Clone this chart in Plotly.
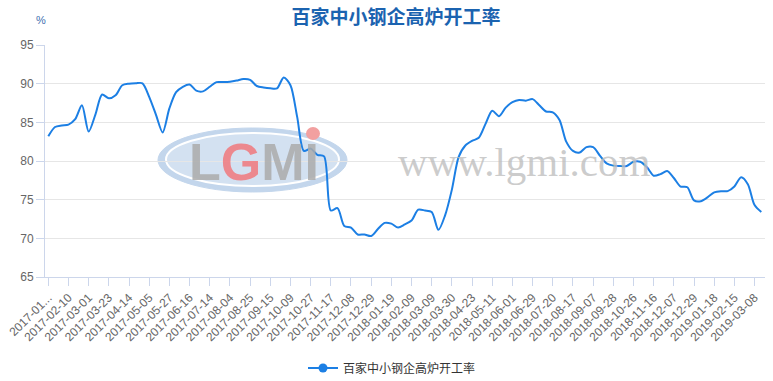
import datetime as dt
import plotly.graph_objects as go

# ---- data ----
tick_labels = [
    "2017-01-20", "2017-02-10", "2017-03-01", "2017-03-23", "2017-04-14", "2017-05-05",
    "2017-05-27", "2017-06-16", "2017-07-14", "2017-08-04", "2017-08-25", "2017-09-15",
    "2017-10-09", "2017-10-27", "2017-11-17", "2017-12-08", "2017-12-29", "2018-01-19",
    "2018-02-09", "2018-03-09", "2018-03-30", "2018-04-23", "2018-05-11", "2018-06-01",
    "2018-06-29", "2018-07-20", "2018-08-17", "2018-09-07", "2018-09-28", "2018-10-26",
    "2018-11-16", "2018-12-07", "2018-12-29", "2019-01-18", "2019-02-15", "2019-03-08",
]
tick_text = ["2017-01..."] + tick_labels[1:]

values = [
    83.2, 84.4, 84.6, 84.7, 85.4, 87.2, 83.8, 86.0, 88.6, 88.1,
    88.5, 89.8, 90.0, 90.05, 90.05, 88.3, 86.0, 83.7, 86.8, 88.9,
    89.6, 89.9, 89.1, 89.0, 89.6, 90.2, 90.2, 90.25, 90.4, 90.6,
    90.5, 89.7, 89.5, 89.4, 89.4, 90.8, 89.8, 85.7, 81.3, 81.6,
    80.8, 80.6, 73.6, 73.9, 71.6, 71.4, 70.5, 70.5, 70.3, 71.2,
    72.0, 71.9, 71.4, 71.8, 72.3, 73.7, 73.6, 73.4, 71.1, 73.0,
    76.3, 80.5, 82.0, 82.6, 83.0, 84.8, 86.5, 85.8, 86.9, 87.6,
    87.9, 87.8, 88.0, 87.2, 86.4, 86.3, 85.3, 82.5, 81.3, 81.1,
    81.8, 81.8, 80.7, 79.7, 79.4, 79.35, 79.35, 79.9, 79.9, 79.2,
    78.1, 78.3, 78.7, 77.8, 76.7, 76.6, 74.9, 74.8, 75.3, 75.95,
    76.1, 76.1, 76.7, 77.9, 77.0, 74.3, 73.4,
]
series_name = "百家中小钢企高炉开工率"

# weekly category dates: each labelled date followed by two weekly dates
dates = []
for lab in tick_labels:
    d = dt.date.fromisoformat(lab)
    for k in range(3):
        dates.append((d + dt.timedelta(days=7 * k)).isoformat())
dates = dates[:len(values)]

BLUE = "#1c7fe4"
AXIS = "#ccd6eb"

fig = go.Figure()
fig.add_trace(go.Scatter(
    x=dates, y=values, mode="lines", name=series_name, showlegend=False,
    line=dict(color=BLUE, width=2, shape="spline", smoothing=0.8),
))
fig.add_trace(go.Scatter(
    x=[None], y=[None], mode="lines+markers", name=series_name,
    line=dict(color=BLUE, width=2), marker=dict(color=BLUE, size=9),
))

# watermark (logo ellipse + text)
fig.add_shape(type="circle", xref="paper", yref="paper",
              x0=(158 - 45) / 720, x1=(347 - 45) / 720,
              y0=(277 - 192) / 232, y1=(277 - 128) / 232,
              fillcolor="#c3d6ec", line=dict(color="#c3d6ec", width=1), layer="below")
fig.add_shape(type="circle", xref="paper", yref="paper",
              x0=(166 - 45) / 720, x1=(339 - 45) / 720,
              y0=(277 - 186) / 232, y1=(277 - 133) / 232,
              fillcolor="#d3e1f1", line=dict(color="#ffffff", width=2), layer="below")
fig.add_shape(type="circle", xref="paper", yref="paper",
              x0=(306 - 45) / 720, x1=(320 - 45) / 720,
              y0=(277 - 140) / 232, y1=(277 - 127) / 232,
              fillcolor="#f2a0a0", line=dict(width=0), layer="below")
fig.add_annotation(
    xref="paper", yref="paper", x=(254 - 45) / 720, y=(277 - 162) / 232,
    text="<b><span style='color:rgba(170,170,170,0.85)'>L</span>"
         "<span style='color:rgba(240,120,125,0.85)'>G</span>"
         "<span style='color:rgba(170,170,170,0.85)'>MI</span></b>",
    showarrow=False, font=dict(family="Liberation Sans", size=52),
    xanchor="center", yanchor="middle")
fig.add_annotation(
    xref="paper", yref="paper", x=(524 - 45) / 720, y=(277 - 162) / 232,
    text="www.lgmi.com", showarrow=False,
    font=dict(family="Liberation Serif", size=41, color="rgba(190,190,190,0.8)"),
    xanchor="center", yanchor="middle")

# "%" unit label
fig.add_annotation(xref="paper", yref="paper", x=(41 - 45) / 720, y=(277 - 20) / 232,
                   text="%", showarrow=False,
                   font=dict(family="Liberation Sans", size=11, color="#3f6fb0"),
                   xanchor="center", yanchor="middle")

fig.update_layout(
    width=773, height=381,
    margin=dict(l=45, r=8, t=45, b=104, autoexpand=False),
    paper_bgcolor="white", plot_bgcolor="white",
    title=dict(text="<b>" + series_name + "</b>", x=396 / 773, xanchor="center",
               y=1 - 17 / 381, yanchor="middle",
               font=dict(family="Noto Sans CJK SC", size=19, color="#1b63b0")),
    showlegend=True,
    legend=dict(orientation="h", x=392 / 773, xanchor="center", xref="container",
                y=(381 - 368) / 381, yanchor="middle", yref="container",
                font=dict(family="Noto Sans CJK SC", size=12, color="#333333"),
                bgcolor="rgba(0,0,0,0)"),
    font=dict(family="Liberation Sans", color="#666666"),
)
fig.update_xaxes(
    type="category", range=[-0.49, 106.55], tickmode="array",
    tickvals=[dates[i] for i in range(0, len(values), 3)], ticktext=tick_text,
    tickangle=-45, tickfont=dict(size=12, color="#666666"),
    ticks="outside", ticklen=8, tickcolor=AXIS, showline=True, linecolor=AXIS,
    showgrid=False, zeroline=False, automargin=False,
)
fig.update_yaxes(
    range=[65, 95], dtick=5, tickfont=dict(size=12, color="#666666"),
    ticks="outside", ticklen=8, tickcolor=AXIS, showline=True, linecolor=AXIS,
    showgrid=True, gridcolor="#e6e6e6", zeroline=False, automargin=False,
)

fig.write_html("out.html")
